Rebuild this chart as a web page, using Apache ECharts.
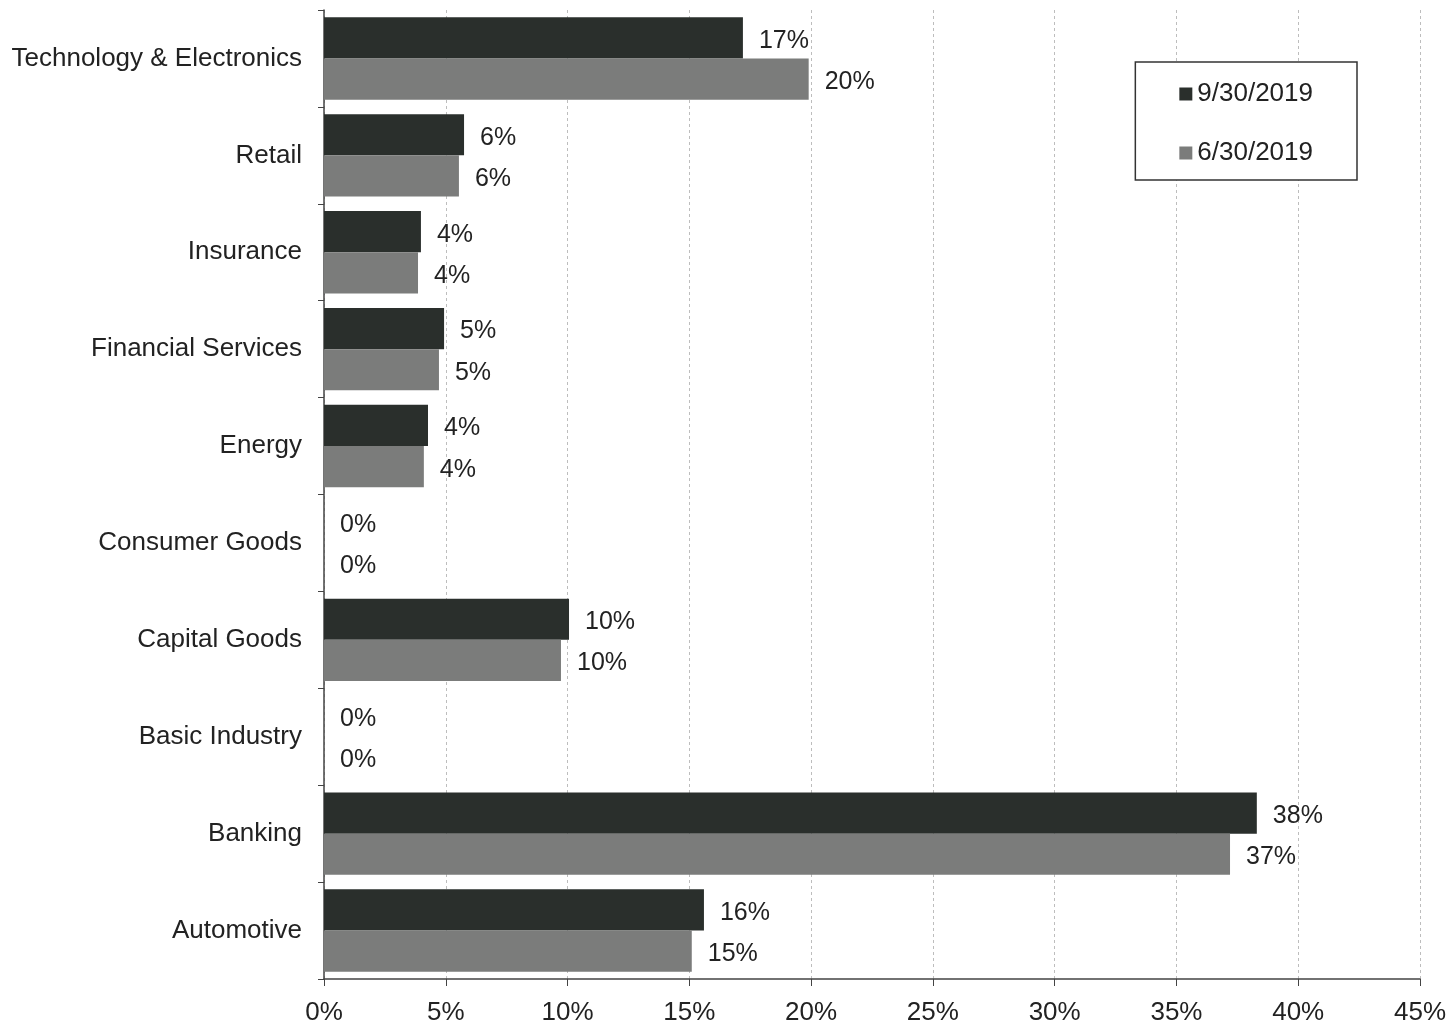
<!DOCTYPE html>
<html>
<head>
<meta charset="utf-8">
<script src="https://cdn.jsdelivr.net/npm/echarts@6/dist/echarts.min.js"></script>
<style>
  html, body { margin: 0; padding: 0; background: #fff; }
  #chart { width: 1453px; height: 1026px; }
</style>
</head>
<body>
<div id="chart"></div>
<script>
// Sector allocation, percent of portfolio
const categories = [
  'Technology & Electronics', 'Retail', 'Insurance', 'Financial Services', 'Energy',
  'Consumer Goods', 'Capital Goods', 'Basic Industry', 'Banking', 'Automotive'
];
const seriesNames = ['9/30/2019', '6/30/2019'];
const sep2019 = [17.2, 5.75, 3.98, 4.93, 4.27, 0, 10.06, 0, 38.3, 15.6];
const jun2019 = [19.9, 5.54, 3.86, 4.72, 4.1, 0, 9.73, 0, 37.2, 15.1];
const xTicks = [0, 5, 10, 15, 20, 25, 30, 35, 40, 45];

const FONT = '"Liberation Sans", Arial, sans-serif';
const colors = ['#2a2f2c', '#7b7c7b'];

const chart = echarts.init(document.getElementById('chart'));

const labelCfg = {
  show: true,
  position: 'right',
  distance: 16,
  offset: [0, 3],
  color: '#222',
  fontSize: 25,
  fontFamily: FONT,
  formatter: p => Math.round(p.value) + '%'
};

chart.setOption({
  animation: false,
  backgroundColor: '#fff',
  grid: { left: 324, right: 33, top: 10, bottom: 46, containLabel: false },
  legend: {
    data: seriesNames,
    orient: 'vertical',
    right: 96,
    top: 62,
    icon: 'rect',
    itemWidth: 13,
    itemHeight: 13,
    itemGap: 33,
    padding: [19, 44, 14, 44],
    borderColor: '#333',
    borderWidth: 1.5,
    backgroundColor: '#fff',
    textStyle: { fontSize: 26, fontFamily: FONT, color: '#222' }
  },
  xAxis: {
    type: 'value',
    min: xTicks[0],
    max: xTicks[xTicks.length - 1],
    interval: 5,
    axisLine: { show: true, lineStyle: { color: '#444', width: 1.5 } },
    axisTick: { show: true, length: 7, lineStyle: { color: '#444' } },
    axisLabel: { fontSize: 26, fontFamily: FONT, color: '#222', margin: 21, formatter: v => v + '%' },
    splitLine: { show: true, lineStyle: { color: '#bdbdbd', type: [3, 3], width: 1 } }
  },
  yAxis: {
    type: 'category',
    data: categories,
    inverse: true,
    axisLine: { show: true, lineStyle: { color: '#444', width: 1.5 } },
    axisTick: { show: true, length: 6, lineStyle: { color: '#444' } },
    axisLabel: { fontSize: 26, fontFamily: FONT, color: '#222', margin: 22 },
    splitLine: { show: false }
  },
  series: [
    {
      name: seriesNames[0], type: 'bar', data: sep2019,
      barGap: '0%', barCategoryGap: '15%',
      itemStyle: { color: colors[0] },
      label: labelCfg
    },
    {
      name: seriesNames[1], type: 'bar', data: jun2019,
      barGap: '0%', barCategoryGap: '15%',
      itemStyle: { color: colors[1] },
      label: labelCfg
    }
  ]
});
</script>
</body>
</html>
